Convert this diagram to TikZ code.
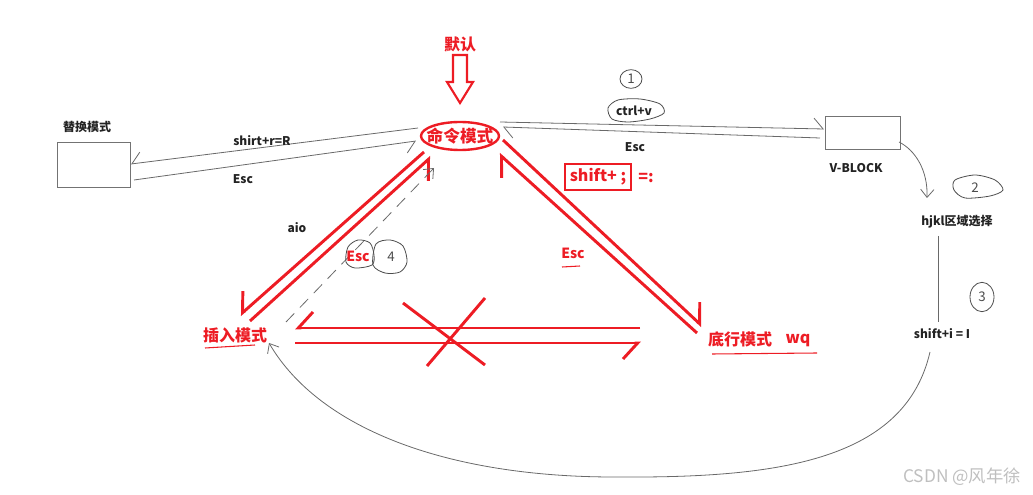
\documentclass[tikz,border=0pt]{standalone}
\usepackage{fontspec}
\setmainfont{Noto Sans CJK SC}
\usetikzlibrary{arrows.meta,shapes.geometric}
\definecolor{pred}{RGB}{237,28,36}
\definecolor{ink}{RGB}{35,35,35}
\definecolor{thin}{RGB}{105,105,105}
\begin{document}
\begin{tikzpicture}[x=0.75pt,y=-0.75pt,
  redtxt/.style={text=pred,font=\bfseries\fontsize{12}{14}\selectfont,inner sep=0pt},
  redsmall/.style={text=pred,font=\bfseries\fontsize{10.5}{12}\selectfont,inner sep=0pt},
  blktxt/.style={text=ink,font=\bfseries\fontsize{9}{11}\selectfont,inner sep=0pt},
  redline/.style={draw=pred,line width=2.2pt},
  redarrL/.style={redline,-{Straight Barb[left,length=11pt,width=24pt]}},
  redarrR/.style={redline,-{Straight Barb[right,length=11pt,width=24pt]}},
  thinarr/.style={draw=thin,line width=0.6pt,-{Straight Barb[length=6pt,width=10pt]}},
  thinarrL/.style={draw=thin,line width=0.6pt,-{Straight Barb[left,length=7pt,width=16pt]}},
  thinarrR/.style={draw=thin,line width=0.6pt,-{Straight Barb[right,length=7pt,width=16pt]}},
  thinline/.style={draw=thin,line width=0.6pt},
  dasharr/.style={thinarr,dash pattern=on 9pt off 6pt},
  blob/.style={draw=black!70,line width=0.6pt},
  hand/.style={text=black!70,font=\fontsize{10}{11}\selectfont,inner sep=0pt},
  graybox/.style={draw=black!55,line width=0.7pt,fill=white,inner sep=0pt},
  redunder/.style={draw=pred,line width=0.8pt}
]
\useasboundingbox (0,0) rectangle (1033,495);

% default arrow
\node[redtxt] (def) at (460,44) {默认};
\draw[pred,line width=1.6pt,line join=miter]
  (453,55) -- (467,55) -- (467,82) -- (473,82) -- (460,103) -- (447,82) -- (453,82) -- cycle;

% command mode
\node[ellipse,draw=pred,line width=1.8pt,minimum width=58.5pt,minimum height=21pt,inner sep=0pt] (cmd) at (460,136) {};
\node[redtxt,font=\bfseries\fontsize{12.5}{14}\selectfont] (cmdtxt) at (460,136) {命令模式};

% replace mode
\node[graybox,minimum width=54.75pt,minimum height=33.75pt] (rep) at (93.5,164.5) {};
\node[blktxt] (replab) at (87,127) {替换模式};
\coordinate (c1) at (418,128);
\coordinate (r1) at (131,164);
\coordinate (r2) at (134,180);
\coordinate (c2) at (416,141);
\draw[thinarrR] (c1) -- (r1);
\draw[thinarrR] (r2) -- (c2);
\node[blktxt] (lab1) at (262,141) {shirt+r=R};
\node[blktxt] (lab2) at (243,179) {Esc};

% V-block
\node[graybox,minimum width=56.25pt,minimum height=24.75pt] (vb) at (863,132.5) {};
\node[blktxt] (vblab) at (856,168) {V-BLOCK};
\coordinate (c3) at (500,122);
\coordinate (v1) at (824,129);
\coordinate (v2) at (820,138);
\coordinate (c4) at (503,127);
\draw[thinarrL] (c3) -- (v1);
\draw[thinarrL] (v2) -- (c4);
\draw[blob] plot[smooth cycle] coordinates {(608,108) (618,100) (640,99) (660,104) (664,113) (650,119) (628,122) (612,119)};
\node[blktxt] (ctrlv) at (634,111) {ctrl+v};
\node[blktxt] (esc3) at (635,147) {Esc};
\draw[blob] (631,79) ellipse [x radius=8.25pt,y radius=7pt];
\node[hand] (n1) at (631,79) {1};

% visual block steps
\coordinate (v3) at (899,142);
\coordinate (h1) at (927,198);
\draw[thinarr] (v3) .. controls (915,150) and (928,170) .. (h1);
\draw[blob] plot[smooth cycle] coordinates {(955,180) (975,175) (995,180) (1003,190) (990,196) (965,198) (954,190)};
\node[hand] (n2) at (975,188) {2};
\node[blktxt] (hjkl) at (957,222) {hjkl区域选择};
\coordinate (h2) at (938,236);
\coordinate (s1) at (938,322);
\draw[thinline] (h2) -- (s1);
\draw[blob] (982,297) ellipse [x radius=9pt,y radius=11pt];
\node[hand] (n3) at (982,297) {3};
\node[blktxt] (shifti) at (942,334) {shift+i = I};
\coordinate (s2) at (930,352);
\coordinate (i1) at (269,343);
\draw[thinarr] (s2) .. controls (905,460) and (780,478) .. (620,477)
  .. controls (450,478) and (320,430) .. (i1);

% insert mode
\node[redtxt] (ins) at (235,335) {插入模式};
\draw[redunder] (205,348) -- (255,345);
\coordinate (a1) at (424,152);
\coordinate (a2) at (240,315);
\coordinate (a3) at (250,321);
\coordinate (a4) at (431,157);
\draw[redarrR] (a1) -- (a2);
\draw[redarrR] (a3) -- (a4);
\coordinate (d1) at (286,322);
\coordinate (d2) at (434,168);
\draw[dasharr] (d1) -- (d2);
\node[blktxt] (aio) at (297,228) {aio};
\draw[blob] plot[smooth cycle] coordinates {(348,247) (358,240) (370,243) (374,255) (372,265) (355,268) (346,262)};
\node[redsmall] (esc4) at (358,256) {Esc};
\draw[blob] plot[smooth cycle] coordinates {(376,244) (390,240) (403,246) (407,262) (400,272) (385,273) (373,265)};
\node[hand] (n4) at (391,257) {4};

% bottom-line mode
\node[redtxt] (bot) at (740,339) {底行模式};
\node[redtxt] (wq) at (798,340) {wq};
\draw[redunder] (712,354) -- (817,353);
\coordinate (b1) at (503,140);
\coordinate (b2) at (702,326);
\coordinate (b3) at (697,333);
\coordinate (b4) at (499,154);
\draw[redarrL] (b1) -- (b2);
\draw[redarrL] (b3) -- (b4);
\node[draw=pred,line width=1.6pt,minimum width=50pt,minimum height=20pt,redtxt] (sc) at (598,177) {shift+ ;};
\node[redtxt] (eqc) at (646,178) {=:};
\node[redsmall] (esc5) at (573,253) {Esc};
\draw[redunder] (562,267) -- (580,266);

% forbidden insert <-> bottom
\coordinate (x1) at (640,328);
\coordinate (x2) at (295,328);
\coordinate (x3) at (295,343);
\coordinate (x4) at (641,343);
\draw[redarrR] (x1) -- (x2);
\draw[redarrR] (x3) -- (x4);
\coordinate (k1) at (403,303);
\coordinate (k2) at (485,365);
\coordinate (k3) at (485,298);
\coordinate (k4) at (427,366);
\draw[redline] (k1) -- (k2);
\draw[redline] (k3) -- (k4);

% watermark
\node[text=black!25,font=\fontsize{13}{14}\selectfont,inner sep=0pt] (wm) at (962,477) {CSDN @风年徐};
\end{tikzpicture}
\end{document}
